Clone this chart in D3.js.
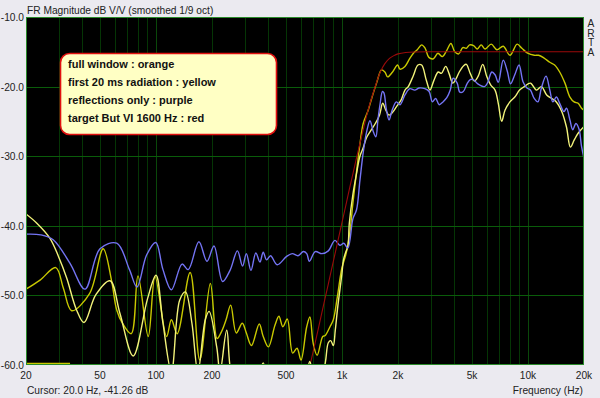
<!DOCTYPE html>
<html><head><meta charset="utf-8">
<script src="https://cdn.jsdelivr.net/npm/d3@7"></script>
<style>
html,body{margin:0;padding:0;background:#ebeaf0;}
svg{display:block;font-family:"Liberation Sans",Arial,sans-serif;}
</style></head>
<body>
<svg id="chart" width="600" height="398"></svg>
<script>
// ---------- DATA ----------
const title = "FR Magnitude dB V/V (smoothed 1/9 oct)";
const cursorText = "Cursor: 20.0 Hz, -41.26 dB";
const xAxisTitle = "Frequency (Hz)";
const brandLetters = ["A","R","T","A"];
const legendLines = ["full window : orange","first 20 ms radiation : yellow","reflections only : purple","target But VI 1600 Hz : red"];
const yTicks = [-10,-20,-30,-40,-50,-60];
const xTickValues = [20,50,100,200,500,1000,2000,5000,10000,20000];
const xTickLabels = ["20","50","100","200","500","1k","2k","5k","10k","20k"];
const xGrid = [30,40,50,60,70,80,90,100,200,300,400,500,600,700,800,900,1000,2000,3000,4000,5000,6000,7000,8000,9000,10000];
const xDecades = [100,1000,10000];

// full window (orange, drawn olive-yellow)
const fullWindow = [
[20,-49.1],[23.8,-47.8],[28.9,-46.0],[31.8,-49.0],[35.2,-52.2],[44,-49.7],[52,-43.3],[57.6,-47.8],[61.5,-52.1],[66,-54.0],[73.6,-55.5],
[80,-47.2],[90.8,-55.9],[98.8,-47.3],[114,-55.9],[121,-53.5],[130,-55.5],[152.6,-46.7],[172,-59.3],[196,-48.3],[213,-56.2],
[225,-55.2],[238,-53.5],[252,-51.4],[270,-55.4],[291,-54.0],[306,-55.4],[326,-57.2],[359,-54.1],[377,-55.9],[402,-57.4],
[436,-54.3],[458,-53.0],[481,-54.5],[508,-53.4],[543,-58.3],[573,-57.6],[602,-59.3],[646,-54.5],[672,-53.1],[700,-56.9],
[735,-58.6],[788,-55.9],[810,-55.8],[862,-54.5],[898,-53.5],[944,-50.2],[998,-46.1],[1052,-44.0],[1100,-41.1],[1144,-36.8],
[1200,-32.0],[1248,-28.3],[1300,-25.3],[1383,-23.4],[1444,-21.7],[1534,-19.5],[1630,-17.6],[1700,-17.9],[1760,-18.6],
[1870,-17.9],[1990,-16.9],[2050,-17.5],[2180,-17.1],[2320,-15.9],[2440,-15.1],[2540,-14.7],[2680,-14.0],[2800,-14.5],
[2930,-15.8],[3100,-16.0],[3280,-15.2],[3460,-15.7],[3640,-14.9],[3850,-13.8],[4040,-15.0],[4240,-15.3],[4460,-14.4],
[4660,-14.5],[4850,-14.0],[5100,-14.1],[5340,-14.6],[5600,-14.0],[5880,-14.6],[6340,-13.9],[6800,-14.7],[7360,-14.2],
[8000,-15.5],[8740,-13.9],[9270,-14.5],[9960,-15.2],[10800,-15.5],[11400,-15.5],[12200,-15.9],[13100,-16.5],[13900,-16.9],
[14800,-17.9],[15800,-19.5],[16800,-21.5],[17700,-22.2],[18600,-22.4],[19400,-23.1],[20000,-23.4]
];

// first 20 ms radiation (yellow)
const first20ms = [
[20,-38.3],[22.8,-39.6],[26.9,-41.8],[29.9,-44.4],[33.1,-47.5],[37.4,-52.1],[41,-53.9],[47.5,-49.9],[56.6,-47.9],[64,-52.6],
[75.4,-58.7],[90,-50.5],[100,-47.1],[109,-54.0],[121,-61],[134,-50.7],[144,-49.5],[156,-54.0],[168,-61],[184,-53.5],
[193,-52.3],[212,-57.4],[221,-61],[240,-55.0],[258,-62],[300,-64],[355,-61.5],[377,-59.7],[398,-62],[500,-64],[630,-62],
[672,-59.5],[705,-62],[790,-61],[815,-59.5],[844,-56.8],[870,-56.5],[898,-57.2],[920,-55.0],[950,-51.5],[998,-47.0],
[1018,-44.9],[1050,-43.7],[1075,-43.0],[1095,-39.6],[1144,-35.5],[1197,-32.5],[1248,-30.0],[1300,-28.8],[1356,-27.3],
[1414,-26.5],[1510,-25.3],[1590,-24.1],[1655,-22.4],[1720,-23.4],[1790,-24.1],[1870,-23.7],[1960,-22.9],[2080,-21.9],
[2180,-20.5],[2270,-20.0],[2420,-18.4],[2560,-16.9],[2680,-16.9],[2840,-19.1],[2970,-20.5],[3120,-19.1],[3290,-17.9],
[3420,-18.1],[3610,-17.1],[3760,-18.1],[3940,-19.5],[4100,-18.9],[4270,-17.9],[4510,-17.0],[4660,-16.8],[4890,-18.1],
[5150,-19.2],[5400,-18.5],[5710,-16.8],[6010,-18.6],[6310,-19.8],[6650,-20.5],[6920,-22.4],[7220,-25.0],[7520,-23.4],
[7990,-22.2],[8490,-21.5],[9010,-20.5],[9560,-20.0],[10300,-19.5],[11100,-20.5],[11800,-20.0],[12600,-21.2],[13400,-21.7],
[14200,-22.2],[15200,-23.6],[16100,-25.8],[16900,-28.7],[17700,-27.7],[18600,-26.7],[19900,-25.8]
];

// reflections only (purple)
const reflections = [
[20,-41.2],[24,-41.3],[28,-42.0],[34.5,-45.4],[41.5,-49.1],[50,-43.3],[61.5,-42.5],[72,-46.3],[79,-48.8],[89,-44.2],
[99.7,-42.4],[109,-46.3],[121,-49.2],[138,-45.5],[149,-46.3],[170,-42.3],[188,-45.1],[205,-42.9],[228,-48.0],[250,-46.4],
[274,-43.6],[292,-45.8],[306,-44.0],[324,-46.4],[344,-43.9],[362,-45.2],[377,-43.8],[393,-44.9],[413,-44.3],[448,-45.6],
[504,-44.4],[540,-44.0],[580,-44.3],[620,-43.7],[646,-44.0],[668,-45.1],[718,-43.7],[780,-44.0],[844,-43.6],[916,-42.1],
[974,-42.8],[1022,-42.5],[1075,-43.2],[1144,-39.0],[1197,-37.7],[1248,-33.5],[1300,-29.5],[1356,-26.5],[1414,-24.9],
[1470,-26.4],[1520,-27.2],[1560,-24.8],[1602,-22.5],[1650,-20.7],[1680,-20.9],[1730,-23.2],[1790,-24.8],[1860,-23.4],
[1960,-22.2],[2050,-22.6],[2180,-21.2],[2316,-20.3],[2460,-20.5],[2600,-20.2],[2790,-20.3],[2940,-20.7],[3060,-22.2],
[3190,-21.7],[3330,-22.6],[3490,-22.2],[3660,-21.6],[3820,-20.5],[3960,-18.8],[4160,-19.5],[4300,-20.8],[4490,-20.7],
[4700,-19.6],[4890,-19.0],[5080,-19.0],[5370,-19.6],[5840,-20.0],[6050,-19.5],[6390,-17.9],[6650,-18.3],[6920,-19.4],
[7360,-16.2],[7740,-17.8],[8060,-19.6],[8490,-18.3],[8950,-16.9],[9400,-19.3],[9870,-20.2],[10300,-20.5],[10800,-21.7],
[11300,-22.2],[11800,-20.2],[12500,-18.5],[13100,-20.5],[13600,-22.2],[14200,-21.5],[14800,-22.4],[15600,-23.6],
[16100,-23.1],[16800,-24.8],[17400,-26.2],[18100,-25.3],[18800,-26.1],[19400,-28.6],[20000,-30.3]
];

// target Butterworth VI 1600 Hz (red)
const target = [
[680,-59.5],[750,-54.5],[800,-51.1],[850,-48.0],[900,-45.0],[950,-42.2],[1000,-39.5],[1050,-37.0],[1100,-34.5],
[1150,-32.3],[1200,-30.1],[1250,-28.1],[1300,-26.2],[1350,-24.4],[1400,-22.8],[1500,-20.2],[1600,-18.0],[1700,-16.7],
[1800,-15.95],[1900,-15.55],[2000,-15.3],[2200,-15.1],[2500,-15.02],[3000,-15.0],[5000,-15.0],[10000,-15.0],[20000,-15.0]
];

// short cursor marker at the bottom left
const cursorMarker = [[20,-59.8],[34.5,-59.8]];

// ---------- CHART ----------
const svg = d3.select("#chart");
const m = {left:26, top:17, right:584, bottom:365};
const x = d3.scaleLog().domain([20,20000]).range([m.left, m.right]);
const y = d3.scaleLinear().domain([-60,-10]).range([m.bottom, m.top]);
const FS = 10.2;

svg.append("rect").attr("width",600).attr("height",398).attr("fill","#ebeaf0");
svg.append("rect").attr("x",m.left).attr("y",m.top).attr("width",m.right-m.left).attr("height",m.bottom-m.top).attr("fill","#000");

svg.append("defs").append("clipPath").attr("id","clip").append("rect")
  .attr("x",m.left).attr("y",m.top).attr("width",m.right-m.left).attr("height",m.bottom-m.top);

// vertical grid
svg.append("g").selectAll("line").data(xGrid).join("line")
  .attr("x1",d=>Math.round(x(d))+0.5).attr("x2",d=>Math.round(x(d))+0.5)
  .attr("y1",m.top).attr("y2",m.bottom)
  .attr("stroke",d=>xDecades.includes(d)?"#0a480a":"#053505").attr("stroke-width",1);
// horizontal grid
svg.append("g").selectAll("line").data(yTicks.filter(d=>d>-60 && d<-10)).join("line")
  .attr("x1",m.left).attr("x2",m.right)
  .attr("y1",d=>Math.round(y(d))+0.5).attr("y2",d=>Math.round(y(d))+0.5)
  .attr("stroke","#0a5c0a").attr("stroke-width",1);

const line = d3.line().x(d=>x(d[0])).y(d=>y(d[1])).curve(d3.curveCatmullRom.alpha(0.5));
const g = svg.append("g").attr("clip-path","url(#clip)");
g.append("path").datum(cursorMarker).attr("d",d3.line().x(d=>x(d[0])).y(d=>y(d[1]))).attr("stroke","#c8c800").attr("stroke-width",1.5).attr("fill","none");
g.append("path").datum(fullWindow).attr("d",line).attr("stroke","#c8c800").attr("stroke-width",1.4).attr("fill","none");
g.append("path").datum(first20ms).attr("d",line).attr("stroke","#f2f27a").attr("stroke-width",1.4).attr("fill","none");
g.append("path").datum(reflections).attr("d",line).attr("stroke","#7474f4").attr("stroke-width",1.4).attr("fill","none");
g.append("path").datum(target).attr("d",line).attr("stroke","#9a0a0a").attr("stroke-width",1.1).attr("fill","none");

// border
svg.append("rect").attr("x",m.left+0.5).attr("y",m.top+0.5).attr("width",m.right-m.left-1).attr("height",m.bottom-m.top-1)
  .attr("fill","none").attr("stroke","#2a8a2a").attr("stroke-width",1);

// y labels
svg.append("g").selectAll("text").data(yTicks).join("text")
  .attr("x",24).attr("y",d=>y(d)+4).attr("text-anchor","end")
  .attr("font-size",FS).attr("fill","#222").text(d=>d.toFixed(1));
// x labels
svg.append("g").selectAll("text").data(xTickValues).join("text")
  .attr("x",d=>x(d)).attr("y",379).attr("text-anchor","middle")
  .attr("font-size",FS).attr("fill","#222").text((d,i)=>xTickLabels[i]);

svg.append("text").attr("x",27).attr("y",14).attr("font-size",FS).attr("fill","#222").text(title);
svg.append("text").attr("x",27).attr("y",394).attr("font-size",FS).attr("fill","#222").text(cursorText);
svg.append("text").attr("x",583).attr("y",394).attr("text-anchor","end").attr("font-size",FS).attr("fill","#222").text(xAxisTitle);
const brand = svg.append("text").attr("font-size",FS).attr("fill","#222").attr("text-anchor","middle");
brand.selectAll("tspan").data(brandLetters).join("tspan")
  .attr("x",591).attr("y",(d,i)=>27+i*9.5).text(d=>d);

// legend box
const lg = svg.append("g");
lg.append("rect").attr("x",60.5).attr("y",53.5).attr("width",216).attr("height",81).attr("rx",9)
  .attr("fill","#ffffc4").attr("stroke","#e01010").attr("stroke-width",1.6);
lg.selectAll("text").data(legendLines).join("text")
  .attr("x",68).attr("y",(d,i)=>67.5+i*18).attr("font-size",11).attr("fill","#111").attr("font-weight","bold")
  .text(d=>d);
</script>
</body></html>
